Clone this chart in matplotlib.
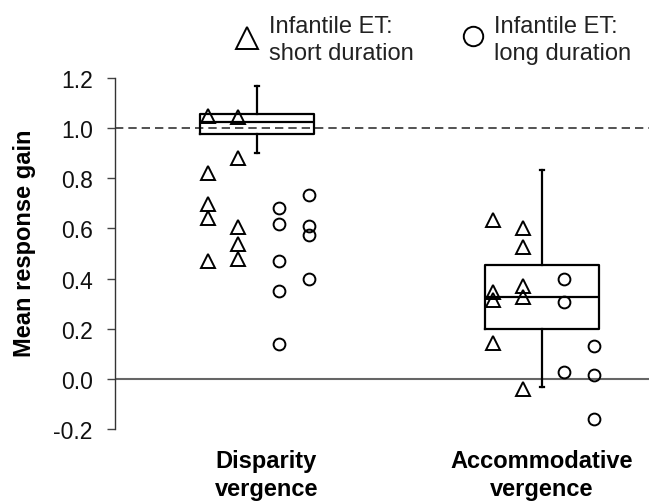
import matplotlib
matplotlib.use("Agg")
import matplotlib.pyplot as plt
from matplotlib.lines import Line2D
from matplotlib.transforms import blended_transform_factory

plt.rcParams['font.family'] = ['Liberation Sans', 'DejaVu Sans']
plt.rcParams['axes.unicode_minus'] = False

# ---- data ----
categories = ["Disparity\nvergence", "Accommodative\nvergence"]
yticks = [-0.2, 0.0, 0.2, 0.4, 0.6, 0.8, 1.0, 1.2]

disp_short_a = [1.047, 0.82, 0.696, 0.643, 0.47]
disp_short_b = [1.043, 0.879, 0.604, 0.538, 0.479]
disp_long_a = [0.68, 0.617, 0.47, 0.349, 0.138]
disp_long_b = [0.735, 0.61, 0.575, 0.398]

acc_short_a = [0.633, 0.348, 0.315, 0.144]
acc_short_b = [0.601, 0.525, 0.371, 0.328, -0.042]
acc_long_a = [0.40, 0.308, 0.029]
acc_long_b = [0.131, 0.016, -0.160]

# box summary: whislo, q1, med, q3, whishi
disp_box = [0.899, 0.978, 1.024, 1.056, 1.167]
acc_box = [-0.033, 0.200, 0.328, 0.453, 0.833]

# ---- figure ----
W, H = 649, 502
fig = plt.figure(figsize=(W / 100, H / 100), dpi=100)
ax = fig.add_axes([115 / W, 72 / H, 1 - 115 / W, (423 - 72) / H])
ax.set_ylim(-0.2, 1.2)
ax.set_xlim(0.502, 2.375)

for s in ['top', 'right', 'bottom']:
    ax.spines[s].set_visible(False)
ax.spines['left'].set_color('#333333')
ax.spines['left'].set_linewidth(1.0)
ax.set_xticks([])
ax.set_yticks(yticks)
ax.set_yticklabels([f"{v:.1f}" for v in yticks])
ax.tick_params(axis='y', length=6, width=1.0, color='#444444', pad=10,
               labelsize=16.5, labelcolor='#111111')

ax.axhline(0.0, color='#666666', lw=1.5, zorder=1)
ax.axhline(1.0, color='#333333', lw=1.2, ls=(0, (5, 3)), zorder=1)

stats = []
for b in (disp_box, acc_box):
    stats.append(dict(whislo=b[0], q1=b[1], med=b[2], q3=b[3], whishi=b[4], fliers=[]))
lp = dict(color='black', lw=1.6)
ax.bxp(stats, positions=[1, 2], widths=0.4, showfliers=False,
       boxprops=lp, whiskerprops=lp, medianprops=lp,
       capprops=dict(color='black', lw=1.6), capwidths=0.012, manage_ticks=False)

tri = dict(marker='^', ls='none', mfc='none', mec='black', mew=1.4, ms=9.5, zorder=3)
cir = dict(marker='o', ls='none', mfc='none', mec='black', mew=1.4, ms=8.5, zorder=3)
offsets = [-0.173, -0.068, 0.076, 0.181]
groups = [(1, [disp_short_a, disp_short_b, disp_long_a, disp_long_b]),
          (2, [acc_short_a, acc_short_b, acc_long_a, acc_long_b])]
for pos, cols in groups:
    for k, (off, vals) in enumerate(zip(offsets, cols)):
        style = tri if k < 2 else cir
        ax.plot([pos + off] * len(vals), vals, **style)

# category labels
btr = blended_transform_factory(ax.transData, fig.transFigure)
for xpos, lab in zip([1.033, 2.0], categories):
    fig.text(xpos, 1 - 496 / H, lab, ha='center', va='baseline', fontsize=17,
             fontweight='bold', linespacing=1.3, transform=btr)

fig.text(25 / W, 1 - 243 / H, "Mean response gain", rotation=90, ha='center',
         va='center', fontsize=17, fontweight='bold')

# legend
fig.add_artist(Line2D([247 / W], [1 - 38.5 / H], transform=fig.transFigure,
                      marker='^', ms=15.5, mfc='none', mec='black', mew=1.4, ls='none'))
fig.add_artist(Line2D([473 / W], [1 - 37 / H], transform=fig.transFigure,
                      marker='o', ms=14, mfc='none', mec='black', mew=1.4, ls='none'))
fig.text(269 / W, 1 - 60 / H, "Infantile ET:\nshort duration", ha='left', va='baseline',
         fontsize=17, color='#222222', linespacing=1.3)
fig.text(494 / W, 1 - 60 / H, "Infantile ET:\nlong duration", ha='left', va='baseline',
         fontsize=17, color='#222222', linespacing=1.3)

fig.savefig("out.png", dpi=100)
